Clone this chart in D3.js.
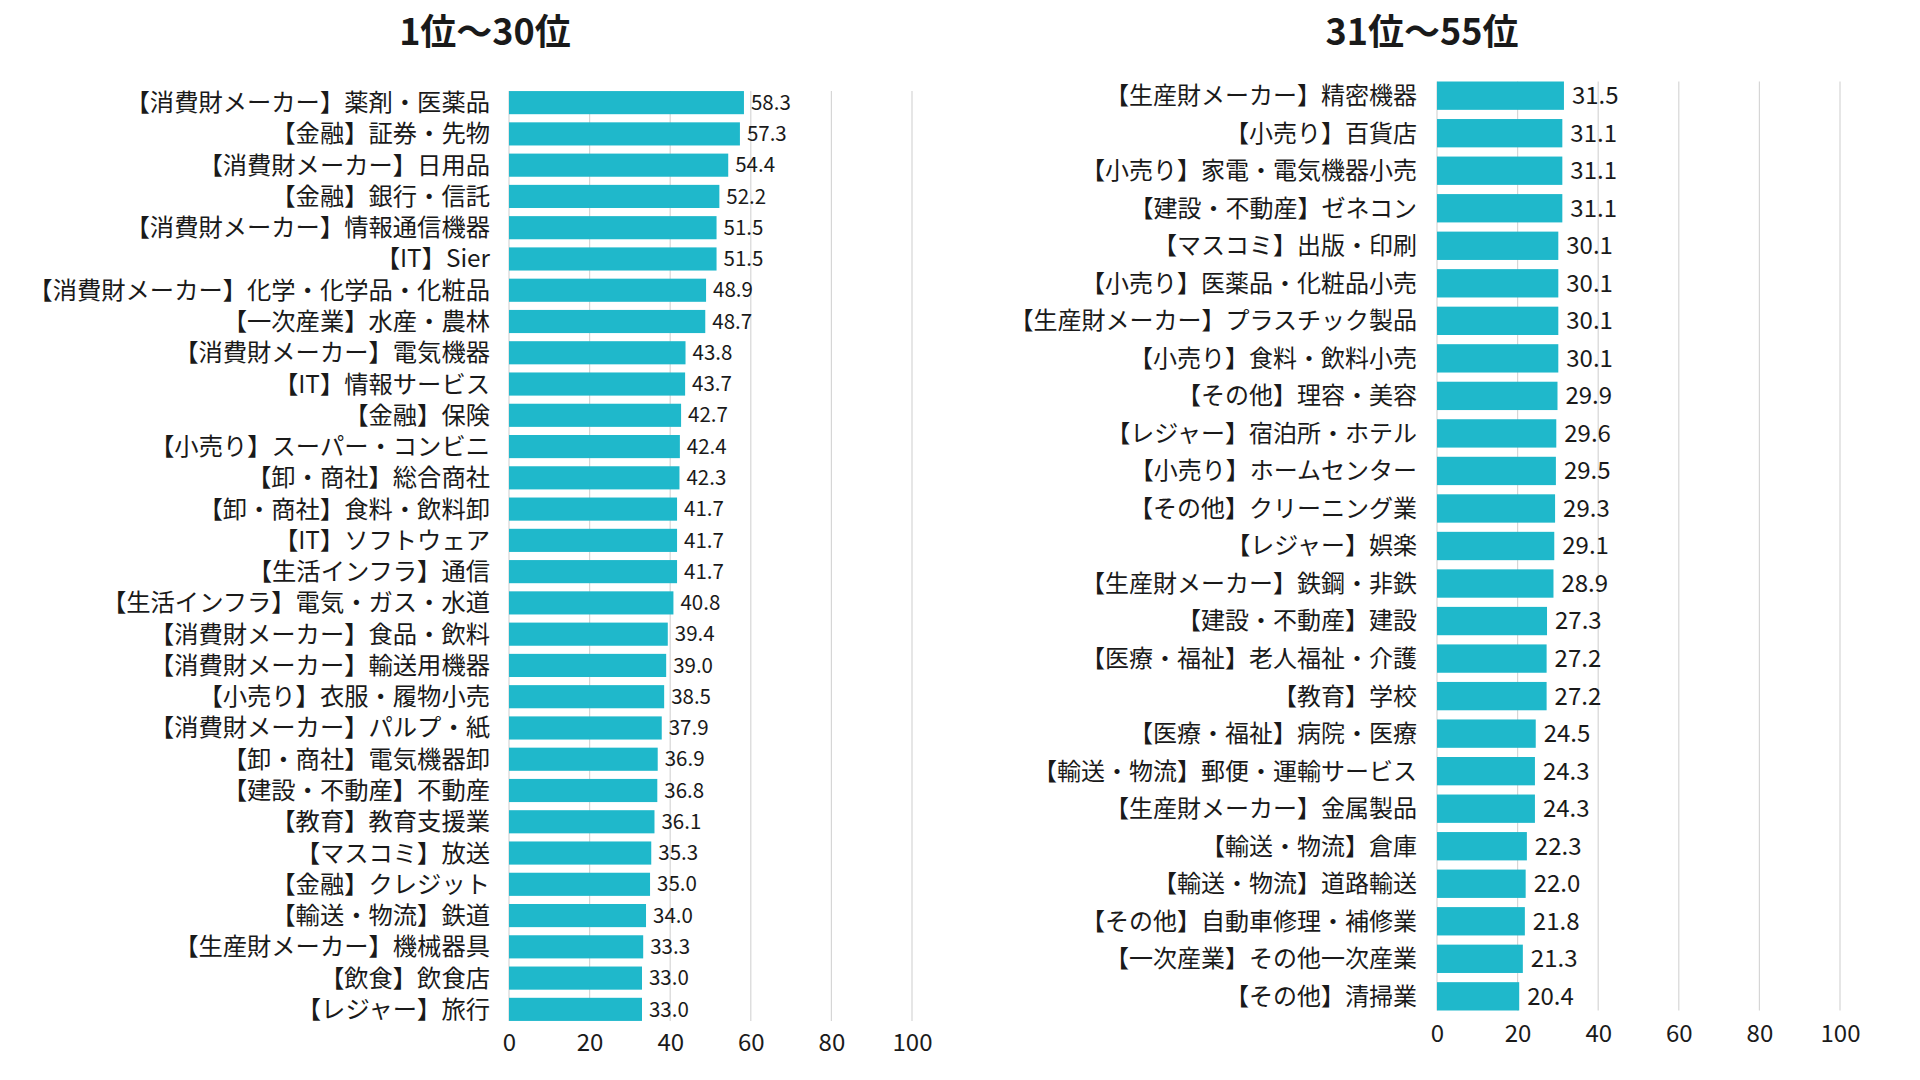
<!DOCTYPE html>
<html>
<head>
<meta charset="utf-8">
<script src="https://cdn.jsdelivr.net/npm/d3@7"></script>
<style>
	body { margin: 0; background: #ffffff; }
	svg { display: block; font-family: "Noto Sans CJK JP", "Noto Sans", sans-serif; }
</style>
</head>
<body>
<svg id="canvas" width="1920" height="1080"></svg>
<script>
// 1位〜30位
var leftNames = [
	"【消費財メーカー】薬剤・医薬品",
	"【金融】証券・先物",
	"【消費財メーカー】日用品",
	"【金融】銀行・信託",
	"【消費財メーカー】情報通信機器",
	"【IT】Sier",
	"【消費財メーカー】化学・化学品・化粧品",
	"【一次産業】水産・農林",
	"【消費財メーカー】電気機器",
	"【IT】情報サービス",
	"【金融】保険",
	"【小売り】スーパー・コンビニ",
	"【卸・商社】総合商社",
	"【卸・商社】食料・飲料卸",
	"【IT】ソフトウェア",
	"【生活インフラ】通信",
	"【生活インフラ】電気・ガス・水道",
	"【消費財メーカー】食品・飲料",
	"【消費財メーカー】輸送用機器",
	"【小売り】衣服・履物小売",
	"【消費財メーカー】パルプ・紙",
	"【卸・商社】電気機器卸",
	"【建設・不動産】不動産",
	"【教育】教育支援業",
	"【マスコミ】放送",
	"【金融】クレジット",
	"【輸送・物流】鉄道",
	"【生産財メーカー】機械器具",
	"【飲食】飲食店",
	"【レジャー】旅行"
];
var leftValues = [58.3, 57.3, 54.4, 52.2, 51.5, 51.5, 48.9, 48.7, 43.8, 43.7,
	42.7, 42.4, 42.3, 41.7, 41.7, 41.7, 40.8, 39.4, 39.0, 38.5,
	37.9, 36.9, 36.8, 36.1, 35.3, 35.0, 34.0, 33.3, 33.0, 33.0];

// 31位〜55位
var rightNames = [
	"【生産財メーカー】精密機器",
	"【小売り】百貨店",
	"【小売り】家電・電気機器小売",
	"【建設・不動産】ゼネコン",
	"【マスコミ】出版・印刷",
	"【小売り】医薬品・化粧品小売",
	"【生産財メーカー】プラスチック製品",
	"【小売り】食料・飲料小売",
	"【その他】理容・美容",
	"【レジャー】宿泊所・ホテル",
	"【小売り】ホームセンター",
	"【その他】クリーニング業",
	"【レジャー】娯楽",
	"【生産財メーカー】鉄鋼・非鉄",
	"【建設・不動産】建設",
	"【医療・福祉】老人福祉・介護",
	"【教育】学校",
	"【医療・福祉】病院・医療",
	"【輸送・物流】郵便・運輸サービス",
	"【生産財メーカー】金属製品",
	"【輸送・物流】倉庫",
	"【輸送・物流】道路輸送",
	"【その他】自動車修理・補修業",
	"【一次産業】その他一次産業",
	"【その他】清掃業"
];
var rightValues = [31.5, 31.1, 31.1, 31.1, 30.1, 30.1, 30.1, 30.1, 29.9, 29.6,
	29.5, 29.3, 29.1, 28.9, 27.3, 27.2, 27.2, 24.5, 24.3, 24.3,
	22.3, 22.0, 21.8, 21.3, 20.4];

var tickValues = [0, 20, 40, 60, 80, 100];
var titles = ["1位〜30位", "31位〜55位"];

var barColor = "#1fb8cb";
var gridColor = "#d6d6d6";
var textColor = "#1a1a1a";

function drawPanel(svg, opt){
	var rows = opt.names.map(function(n, i){
		return {name: n, value: opt.values[i]};
	});

	var x = d3.scaleLinear()
		.domain([0, 100])
		.range([opt.x0, opt.x1]);

	var y = d3.scaleBand()
		.domain(opt.names)
		.range([opt.y0, opt.y1])
		.paddingInner(opt.padIn)
		.paddingOuter(opt.padOut);

	var top = y(opt.names[0]);
	var bottom = y(opt.names[opt.names.length - 1]) + y.bandwidth();

	var g = svg.append("g");

	// gridlines
	g.selectAll("line.grid")
		.data(tickValues)
		.enter()
		.append("line")
			.attr("class", "grid")
			.attr("x1", function(d){ return x(d); })
			.attr("x2", function(d){ return x(d); })
			.attr("y1", top)
			.attr("y2", bottom)
			.attr("stroke", gridColor)
			.attr("stroke-width", 1.2);

	g.selectAll("rect.bar")
		.data(rows)
		.enter()
		.append("rect")
			.attr("class", "bar")
			.attr("x", x(0))
			.attr("y", function(d){ return y(d.name); })
			.attr("width", function(d){ return x(d.value) - x(0); })
			.attr("height", y.bandwidth())
			.attr("fill", barColor);

	g.selectAll("text.name")
		.data(rows)
		.enter()
		.append("text")
			.attr("class", "name")
			.attr("x", x(0) - opt.labelGap)
			.attr("y", function(d){ return y(d.name) + y.bandwidth() / 2; })
			.attr("dy", "0.35em")
			.attr("text-anchor", "end")
			.attr("font-size", opt.labelSize)
			.attr("fill", textColor)
			.text(function(d){ return d.name; });

	g.selectAll("text.value")
		.data(rows)
		.enter()
		.append("text")
			.attr("class", "value")
			.attr("x", function(d){ return x(d.value) + opt.valueGap; })
			.attr("y", function(d){ return y(d.name) + y.bandwidth() / 2; })
			.attr("dy", "0.35em")
			.attr("font-size", opt.valueSize)
			.attr("fill", textColor)
			.text(function(d){ return d.value.toFixed(1); });

	var axis = g.append("g")
		.attr("transform", "translate(0," + bottom + ")")
		.call(d3.axisBottom(x).tickValues(tickValues).tickSize(0).tickPadding(opt.tickPad));
	axis.select(".domain").remove();
	axis.selectAll("text")
		.attr("font-size", 24)
		.attr("font-family", "\"Noto Sans CJK JP\", \"Noto Sans\", sans-serif")
		.attr("fill", textColor);

	svg.append("text")
		.attr("x", opt.titleX)
		.attr("y", 45)
		.attr("text-anchor", "middle")
		.attr("font-size", 36)
		.attr("font-weight", "bold")
		.attr("fill", textColor)
		.text(opt.title);
}

var svg = d3.select("#canvas");

drawPanel(svg, {
	names: leftNames,
	values: leftValues,
	title: titles[0],
	titleX: 485,
	x0: 509, x1: 912,
	y0: 87, y1: 1025,
	padIn: 0.26, padOut: 0.13,
	labelGap: 19,
	labelSize: 24.3,
	valueGap: 7,
	valueSize: 20.5,
	tickPad: 13
});

drawPanel(svg, {
	names: rightNames,
	values: rightValues,
	title: titles[1],
	titleX: 1422,
	x0: 1437, x1: 1840,
	y0: 77, y1: 1015,
	padIn: 0.245, padOut: 0.12,
	labelGap: 20,
	labelSize: 24,
	valueGap: 8,
	valueSize: 24,
	tickPad: 14
});
</script>
</body>
</html>
